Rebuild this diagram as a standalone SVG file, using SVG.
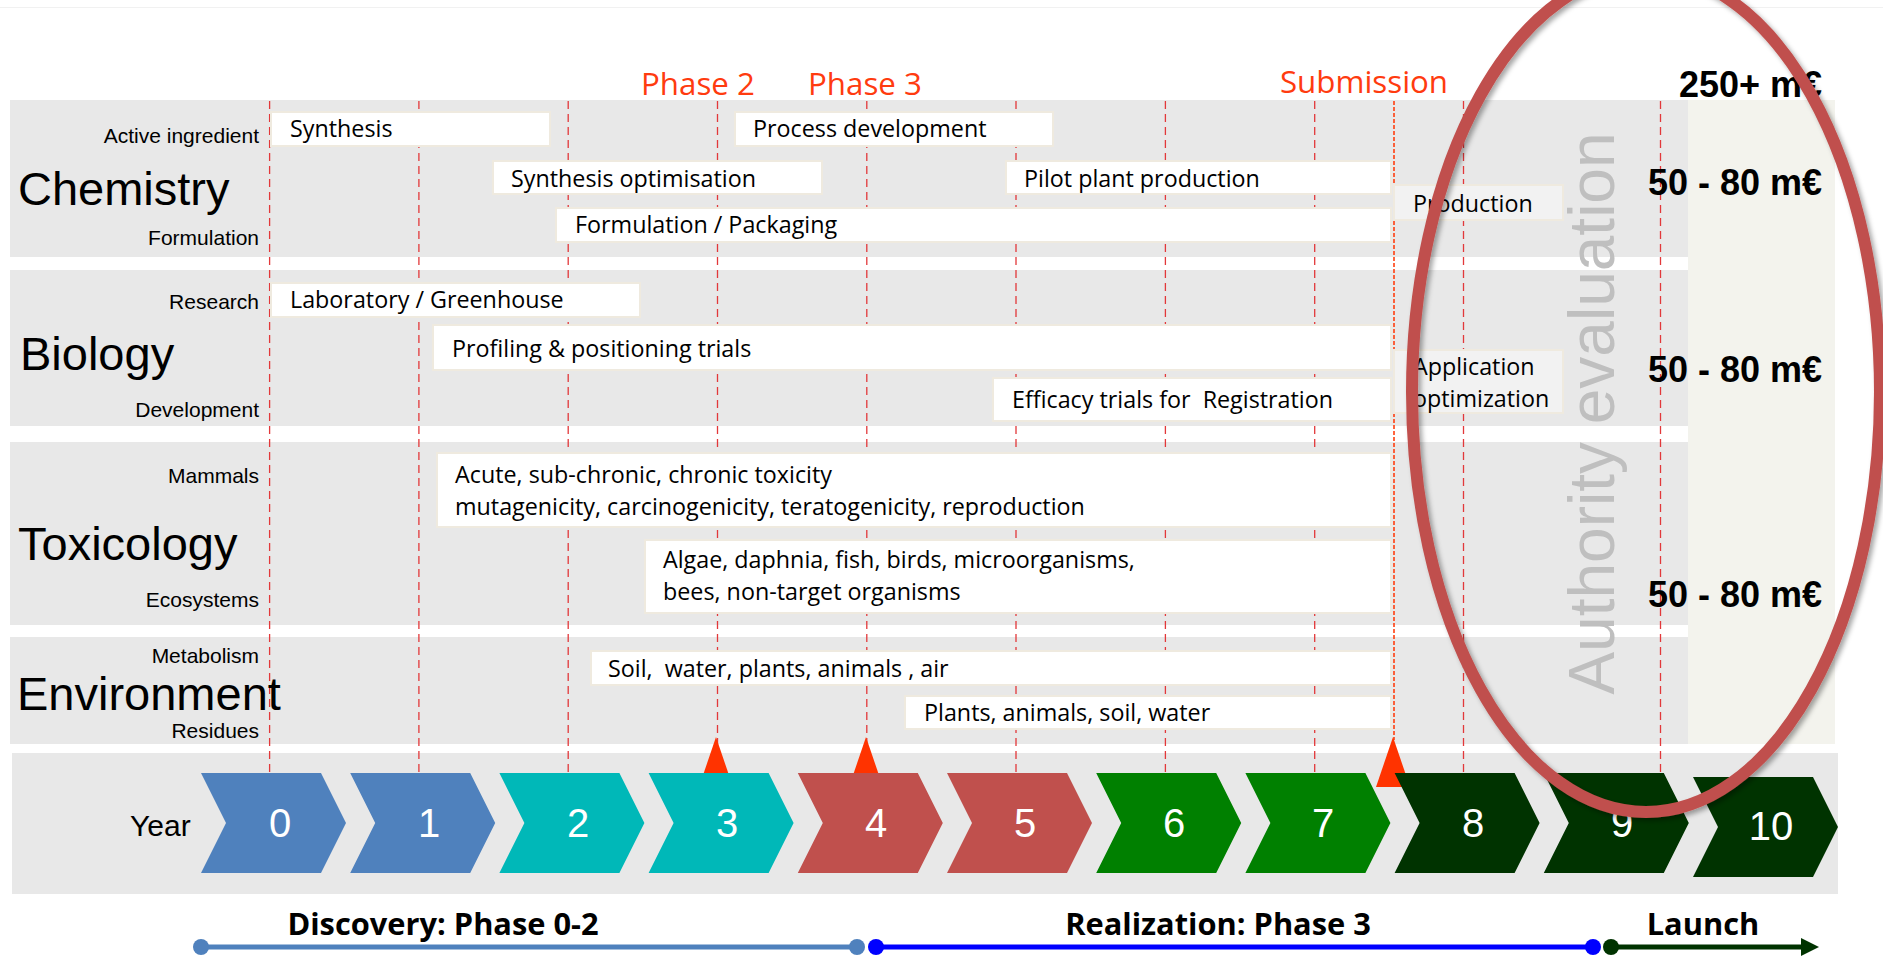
<svg xmlns="http://www.w3.org/2000/svg" width="1883" height="957" viewBox="0 0 1883 957">
  <defs>
    <style>
      .band { fill: #e8e8e8; }
      .task { fill: #ffffff; stroke: #efeadf; stroke-width: 2; }
      .task2 { fill: #f2f2f2; stroke: #efeadf; stroke-width: 2; }
      .tt { font-family: "Open Sans", "Noto Sans", sans-serif; font-size: 23.3px; fill: #000; }
      .sub { font-family: "Liberation Sans", Arial, sans-serif; font-size: 21px; fill: #000; text-anchor: end; }
      .cat { font-family: "Liberation Sans", Arial, sans-serif; font-size: 47px; fill: #000; }
      .phase { font-family: "Open Sans", "Noto Sans", sans-serif; font-size: 31.3px; fill: #ff3b0f; text-anchor: middle; }
      .cost { font-family: "Liberation Sans", Arial, sans-serif; font-size: 36px; font-weight: bold; fill: #000; }
      .yr { font-family: "Liberation Sans", Arial, sans-serif; font-size: 40px; fill: #fff; text-anchor: middle; }
      .stage { font-family: "Open Sans", "Noto Sans", sans-serif; font-size: 30.8px; font-weight: bold; fill: #000; text-anchor: middle; }
      .grid { stroke: #e2383a; stroke-width: 1.3; stroke-dasharray: 8 5; fill: none; }
      .c-blue { fill: #4f81bd; }
      .c-teal { fill: #00b8b8; }
      .c-red { fill: #c0504d; }
      .c-green { fill: #008000; }
      .c-dark { fill: #003300; }
      .marker { fill: #ff3300; }
    </style>
    <filter id="shadow" x="-10%" y="-10%" width="120%" height="120%">
      <feDropShadow dx="3" dy="3" stdDeviation="2.5" flood-color="#000" flood-opacity="0.35"/>
    </filter>
    <polygon id="chev" points="0,0 120,0 145,50 120,100 0,100 25,50"/>
  </defs>

  <rect x="0" y="0" width="1883" height="957" fill="#ffffff"/>
  <line x1="0" y1="7.5" x2="1883" y2="7.5" stroke="#f1f1f1" stroke-width="1"/>

  <!-- discipline bands -->
  <g id="bands">
    <rect class="band" x="10" y="100" width="1678" height="157"/>
    <rect class="band" x="10" y="270" width="1678" height="156"/>
    <rect class="band" x="10" y="442" width="1678" height="183"/>
    <rect class="band" x="10" y="637" width="1678" height="107"/>
    <rect x="1688" y="100" width="147" height="644" fill="#f3f3ed"/>
    <rect class="band" x="12" y="753" width="1826" height="141"/>
  </g>

  <!-- year grid and timeline lines -->
  <g id="connectors">
    <line class="grid" x1="269.6" y1="101" x2="269.6" y2="773"/>
    <line class="grid" x1="418.9" y1="101" x2="418.9" y2="773"/>
    <line class="grid" x1="568.2" y1="101" x2="568.2" y2="773"/>
    <line class="grid" x1="717.5" y1="101" x2="717.5" y2="773"/>
    <line class="grid" x1="866.8" y1="101" x2="866.8" y2="773"/>
    <line class="grid" x1="1016" y1="101" x2="1016" y2="773"/>
    <line class="grid" x1="1165.4" y1="101" x2="1165.4" y2="773"/>
    <line class="grid" x1="1314.7" y1="101" x2="1314.7" y2="773"/>
    <line class="grid" x1="1463.5" y1="101" x2="1463.5" y2="773" stroke="#d9534f" stroke-width="1.1"/>
    <line class="grid" x1="1660.5" y1="101" x2="1660.5" y2="773" stroke="#d9534f" stroke-width="1.1"/>
    <line x1="1394" y1="101" x2="1394" y2="740" stroke="#ff3300" stroke-width="1.5" stroke-dasharray="4 2"/>

    <line x1="201" y1="947" x2="857" y2="947" stroke="#4f81bd" stroke-width="5"/>
    <circle cx="201" cy="947" r="8" fill="#4f81bd"/>
    <circle cx="857" cy="947" r="8" fill="#4f81bd"/>
    <line x1="876" y1="947" x2="1593" y2="947" stroke="#0000ff" stroke-width="5"/>
    <circle cx="876" cy="947" r="8" fill="#0000ff"/>
    <circle cx="1593" cy="947" r="8" fill="#0000ff"/>
    <line x1="1611" y1="947" x2="1803" y2="947" stroke="#003300" stroke-width="5"/>
    <circle cx="1611" cy="947" r="8" fill="#003300"/>
    <polygon points="1801,938 1819,947 1801,956" fill="#003300"/>
  </g>

  <!-- row labels -->
  <g id="labels">
    <text class="cat" x="18" y="205">Chemistry</text>
    <text class="sub" x="259" y="143">Active ingredient</text>
    <text class="sub" x="259" y="245">Formulation</text>
    <text class="cat" x="20" y="370">Biology</text>
    <text class="sub" x="259" y="309">Research</text>
    <text class="sub" x="259" y="417">Development</text>
    <text class="cat" x="18" y="560">Toxicology</text>
    <text class="sub" x="259" y="483">Mammals</text>
    <text class="sub" x="259" y="607">Ecosystems</text>
    <text class="cat" x="17" y="710">Environment</text>
    <text class="sub" x="259" y="663">Metabolism</text>
    <text class="sub" x="259" y="738">Residues</text>
  </g>

  <!-- milestones -->
  <g id="milestones">
    <text class="phase" x="698" y="95">Phase 2</text>
    <text class="phase" x="865" y="95">Phase 3</text>
    <text class="phase" x="1364" y="93">Submission</text>
    <polygon class="marker" points="716,737 733,787 699,787"/>
    <polygon class="marker" points="866,737 883,787 849,787"/>
    <polygon class="marker" points="1393,737 1410,787 1376,787"/>
  </g>

  <!-- chemistry tasks -->
  <g id="task-synthesis">
    <rect class="task" x="271" y="112" width="279" height="34"/>
    <text class="tt" x="290" y="137">Synthesis</text>
  </g>
  <g id="task-process">
    <rect class="task" x="735" y="112" width="318" height="34"/>
    <text class="tt" x="753" y="137">Process development</text>
  </g>
  <g id="task-synth-opt">
    <rect class="task" x="493" y="161" width="329" height="33"/>
    <text class="tt" x="511" y="187">Synthesis optimisation</text>
  </g>
  <g id="task-pilot">
    <rect class="task" x="1006" y="161" width="385" height="33"/>
    <text class="tt" x="1024" y="187">Pilot plant production</text>
  </g>
  <g id="task-formulation">
    <rect class="task" x="556" y="208" width="835" height="34"/>
    <text class="tt" x="575" y="233">Formulation / Packaging</text>
  </g>
  <g id="task-production">
    <rect class="task2" x="1394" y="185" width="169" height="35"/>
    <text class="tt" x="1413" y="212">Production</text>
  </g>

  <!-- biology tasks -->
  <g id="task-lab">
    <rect class="task" x="271" y="283" width="369" height="34"/>
    <text class="tt" x="290" y="308">Laboratory / Greenhouse</text>
  </g>
  <g id="task-profiling">
    <rect class="task" x="433" y="325" width="958" height="45"/>
    <text class="tt" x="452" y="357">Profiling &amp; positioning trials</text>
  </g>
  <g id="task-efficacy">
    <rect class="task" x="993" y="378" width="398" height="43"/>
    <text class="tt" x="1012" y="408" xml:space="preserve">Efficacy trials for  Registration</text>
  </g>
  <g id="task-application">
    <rect class="task2" x="1394" y="350" width="169" height="63"/>
    <text class="tt" x="1413" y="375">Application</text>
    <text class="tt" x="1413" y="407">optimization</text>
  </g>

  <!-- toxicology tasks -->
  <g id="task-mammals">
    <rect class="task" x="437" y="453" width="954" height="74"/>
    <text class="tt" x="455" y="483">Acute, sub-chronic, chronic toxicity</text>
    <text class="tt" x="455" y="515">mutagenicity, carcinogenicity, teratogenicity, reproduction</text>
  </g>
  <g id="task-ecosystems">
    <rect class="task" x="645" y="540" width="746" height="73"/>
    <text class="tt" x="663" y="568">Algae, daphnia, fish, birds, microorganisms,</text>
    <text class="tt" x="663" y="600">bees, non-target organisms</text>
  </g>

  <!-- environment tasks -->
  <g id="task-metabolism">
    <rect class="task" x="591" y="651" width="800" height="34"/>
    <text class="tt" x="608" y="677" xml:space="preserve">Soil,  water, plants, animals , air</text>
  </g>
  <g id="task-residues">
    <rect class="task" x="905" y="696" width="486" height="33"/>
    <text class="tt" x="924" y="721">Plants, animals, soil, water</text>
  </g>

  <!-- cost column -->
  <g id="costs">
    <text class="cost" x="1679" y="97">250+ m€</text>
    <text class="cost" x="1648" y="195">50 - 80 m€</text>
    <text class="cost" x="1648" y="382">50 - 80 m€</text>
    <text class="cost" x="1648" y="607">50 - 80 m€</text>
  </g>

  <g id="authority-label">
    <text transform="translate(1614,413.5) rotate(-90)" font-family="Liberation Sans, Arial, sans-serif" font-size="64" fill="#bfbfbf" text-anchor="middle">Authority evaluation</text>
  </g>

  <!-- year chevrons -->
  <g id="years">
    <text x="130" y="836" font-family="Liberation Sans, Arial, sans-serif" font-size="30" fill="#000">Year</text>
    <g id="year-0"><use href="#chev" x="201" y="773" class="c-blue"/><text class="yr" x="280" y="837">0</text></g>
    <g id="year-1"><use href="#chev" x="350.2" y="773" class="c-blue"/><text class="yr" x="429" y="837">1</text></g>
    <g id="year-2"><use href="#chev" x="499.4" y="773" class="c-teal"/><text class="yr" x="578" y="837">2</text></g>
    <g id="year-3"><use href="#chev" x="648.6" y="773" class="c-teal"/><text class="yr" x="727" y="837">3</text></g>
    <g id="year-4"><use href="#chev" x="797.8" y="773" class="c-red"/><text class="yr" x="876" y="837">4</text></g>
    <g id="year-5"><use href="#chev" x="947" y="773" class="c-red"/><text class="yr" x="1025" y="837">5</text></g>
    <g id="year-6"><use href="#chev" x="1096.2" y="773" class="c-green"/><text class="yr" x="1174" y="837">6</text></g>
    <g id="year-7"><use href="#chev" x="1245.4" y="773" class="c-green"/><text class="yr" x="1323" y="837">7</text></g>
    <g id="year-8"><use href="#chev" x="1394.6" y="773" class="c-dark"/><text class="yr" x="1473" y="837">8</text></g>
    <g id="year-9"><use href="#chev" x="1543.8" y="773" class="c-dark"/><text class="yr" x="1622" y="837">9</text></g>
    <g id="year-10"><use href="#chev" x="1693" y="777" class="c-dark"/><text class="yr" x="1771" y="840">10</text></g>
  </g>

  <!-- stage labels -->
  <g id="stages">
    <text class="stage" x="443" y="935">Discovery: Phase 0-2</text>
    <text class="stage" x="1218" y="935">Realization: Phase 3</text>
    <text class="stage" x="1703" y="935">Launch</text>
  </g>

  <!-- authority evaluation ring -->
  <g id="authority-ring">
    <ellipse cx="1646" cy="392" rx="234" ry="420" fill="none" stroke="#c0504d" stroke-width="12" filter="url(#shadow)"/>
  </g>
</svg>
